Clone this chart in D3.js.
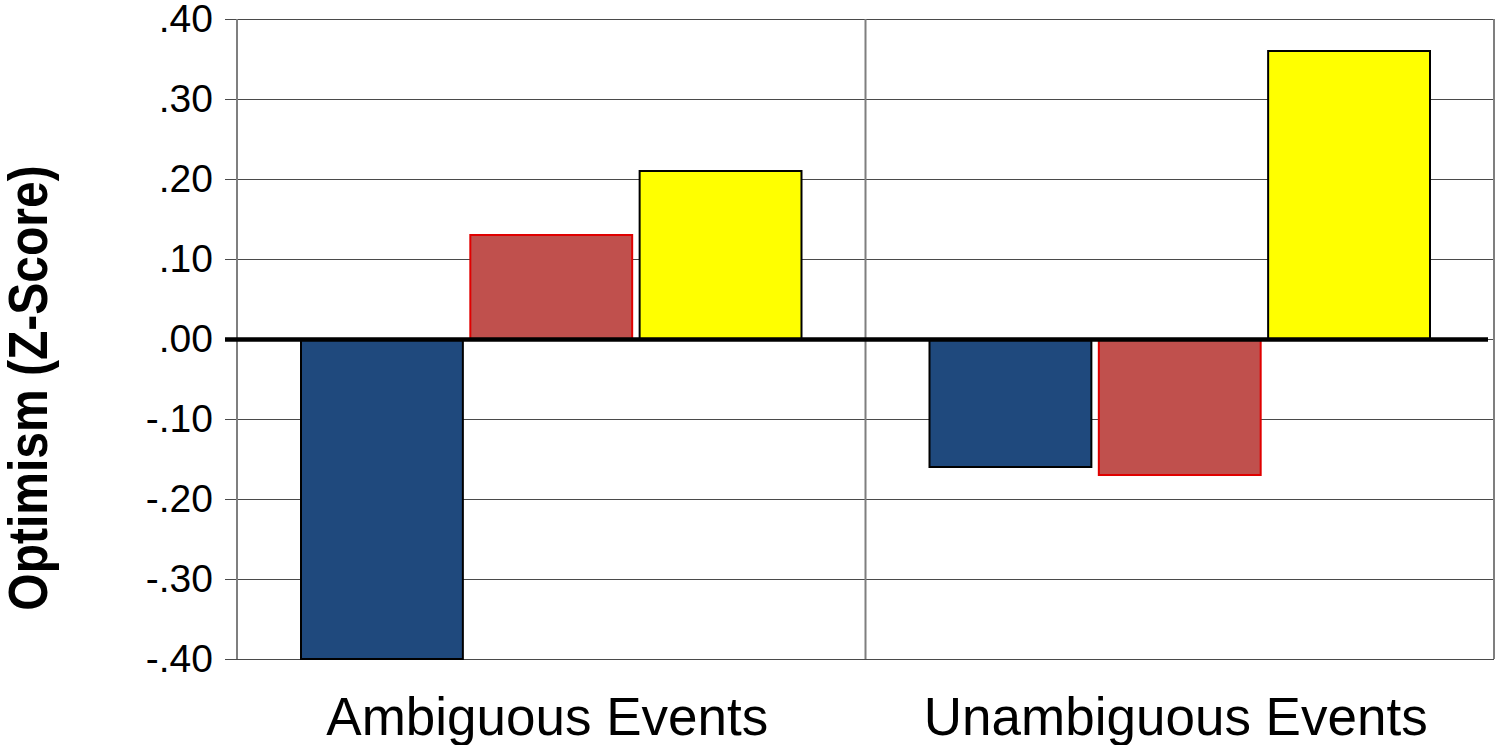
<!DOCTYPE html>
<html>
<head>
<meta charset="utf-8">
<script src="https://cdn.jsdelivr.net/npm/d3@7"></script>
<style>
  html, body { margin: 0; padding: 0; background: #fff; }
  svg { display: block; font-family: "Liberation Sans", Arial, sans-serif; }
</style>
</head>
<body>
<svg id="chart" width="1496" height="745"></svg>
<script>
// Event types on the x axis
const categories = ["Ambiguous Events", "Unambiguous Events"];
// Three groups, one bar each per event type
const seriesNames = ["Group 1", "Group 2", "Group 3"];
const group1 = [-0.40, -0.16];
const group2 = [0.13, -0.17];
const group3 = [0.21, 0.36];
const yTicks = [0.40, 0.30, 0.20, 0.10, 0.00, -0.10, -0.20, -0.30, -0.40];
const yTitle = "Optimism (Z-Score)";

const seriesValues = [group1, group2, group3];
const fills = ["#1f497d", "#c0504d", "#ffff00"];
const strokes = ["#000000", "#e00000", "#000000"];

const plotLeft = 237, plotRight = 1494, plotTop = 19, plotBottom = 659;

const svg = d3.select("#chart");

const x0 = d3.scaleBand().domain(categories).range([plotLeft, plotRight]).padding(0);
const x1 = d3.scaleBand().domain(seriesNames).range([0, x0.bandwidth()])
  .paddingInner(0.044).paddingOuter(0.378);
const y = d3.scaleLinear().domain([-0.4, 0.4]).range([plotBottom, plotTop]);

// ".40" / "-.10" style labels: hyphen minus, no leading zero
const locale = d3.formatLocale({ decimal: ".", thousands: ",", grouping: [3], currency: ["", ""], minus: "-" });
const fmt = v => locale.format(".2f")(v).replace(/^(-?)0\./, "$1.");

// Horizontal gridlines with tick labels
const yAxis = d3.axisLeft(y).tickValues(yTicks).tickFormat(fmt)
  .tickSize(-(plotRight - plotLeft)).tickSizeOuter(0).tickPadding(24);
const gy = svg.append("g").attr("transform", `translate(${plotLeft},0)`).call(yAxis);
gy.select(".domain").remove();
gy.selectAll(".tick line")
  .attr("x1", -12)
  .attr("stroke", "#4a4a4a").attr("stroke-width", 1.2);
gy.selectAll(".tick text")
  .attr("font-size", 39).attr("fill", "#000")
  .attr("font-family", "'Liberation Sans', Arial, sans-serif");

// Vertical frame lines: left axis, category divider, right edge
const vLines = [plotLeft, x0(categories[1]), plotRight];
svg.append("g").selectAll("line").data(vLines).join("line")
  .attr("x1", d => d).attr("x2", d => d)
  .attr("y1", plotTop).attr("y2", plotBottom)
  .attr("stroke", "#7f7f7f").attr("stroke-width", 2);

// Bars
const groups = svg.append("g").selectAll("g").data(categories).join("g")
  .attr("transform", d => `translate(${x0(d)},0)`);
groups.selectAll("rect")
  .data((c, ci) => seriesNames.map((s, si) => ({ s, si, v: seriesValues[si][ci] })))
  .join("rect")
  .attr("x", d => x1(d.s))
  .attr("width", x1.bandwidth())
  .attr("y", d => y(Math.max(0, d.v)))
  .attr("height", d => Math.abs(y(d.v) - y(0)))
  .attr("fill", d => fills[d.si])
  .attr("stroke", d => strokes[d.si])
  .attr("stroke-width", 2);

// Heavy zero baseline
svg.append("line")
  .attr("x1", plotLeft - 12).attr("x2", plotRight - 6)
  .attr("y1", y(0) + 0.5).attr("y2", y(0) + 0.5)
  .attr("stroke", "#000").attr("stroke-width", 4.5);

// Category labels
svg.append("g").selectAll("text").data(categories).join("text")
  .attr("x", d => x0(d) + x0.bandwidth() / 2 - 4)
  .attr("y", 735)
  .attr("text-anchor", "middle")
  .attr("font-size", 53)
  .attr("fill", "#000")
  .text(d => d);

// Y axis title
svg.append("text")
  .attr("transform", `translate(47,388) rotate(-90) scale(1,1.14)`)
  .attr("text-anchor", "middle")
  .attr("font-size", 48)
  .attr("font-weight", "bold")
  .attr("fill", "#000")
  .text(yTitle);
</script>
</body>
</html>
